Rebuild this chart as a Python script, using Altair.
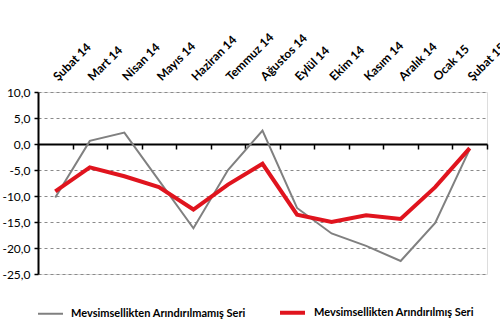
import altair as alt
import pandas as pd

months = ["Şubat 14", "Mart 14", "Nisan 14", "Mayıs 14", "Haziran 14", "Temmuz 14",
          "Ağustos 14", "Eylül 14", "Ekim 14", "Kasım 14", "Aralık 14", "Ocak 15", "Şubat 15"]
unadjusted = [-10.3, 0.6, 2.2, -7.0, -16.2, -5.0, 2.6, -12.3, -17.2, -19.6, -22.5, -15.2, -1.0]
adjusted = [-9.1, -4.5, -6.2, -8.3, -12.6, -7.8, -3.8, -13.6, -15.0, -13.7, -14.4, -8.3, -0.8]
series_names = ["Mevsimsellikten Arındırılmamış Seri", "Mevsimsellikten Arındırılmış Seri"]
series_colors = ["#808080", "#e0141e"]
series_widths = [2, 4]
y_ticks = [10, 5, 0, -5, -10, -15, -20, -25]
y_domain = [-25, 10]

df = pd.DataFrame({
    "month": months * 2,
    "value": unadjusted + adjusted,
    "series": [series_names[0]] * len(months) + [series_names[1]] * len(months),
})

FONT = "Lato"
W, H = 449, 182
zero_offset = -H * (0 - y_domain[0]) / (y_domain[1] - y_domain[0])

legend = alt.Legend(
    title=None, orient="none", legendX=-1, legendY=206, direction="horizontal",
    symbolType="stroke", symbolSize=625, labelFont=FONT, labelFontSize=11,
    labelFontWeight="bold", labelColor="black", labelOffset=7, columnPadding=26,
    labelLimit=400,
)
color = alt.Color("series:N", scale=alt.Scale(domain=series_names, range=series_colors), legend=legend)
width_enc = alt.StrokeWidth("series:N", scale=alt.Scale(domain=series_names, range=series_widths), legend=legend)

y_enc = alt.Y(
    "value:Q",
    scale=alt.Scale(domain=y_domain, nice=False, zero=False),
    axis=alt.Axis(
        title=None, values=y_ticks, grid=True, gridDash=[3, 3], gridColor="#8a8a8a", gridWidth=1,
        domainColor="black", domainWidth=2, tickColor="black", tickSize=4, tickWidth=1.5,
        labelFont=FONT, labelFontSize=12, labelColor="black", labelPadding=4,
        labelExpr="replace(replace(format(datum.value, '.1f'), '.', ','), '−', '-')",
    ),
)

x_scale = alt.Scale(type="band", paddingInner=0, paddingOuter=0)

gray = alt.Chart(df).transform_filter(alt.datum.series == series_names[0]).mark_line().encode(
    x=alt.X("month:N", sort=months, scale=x_scale, bandPosition=0.5,
            axis=alt.Axis(orient="bottom", offset=zero_offset, labels=False, title=None, grid=False,
                          domainColor="black", domainWidth=2, tickColor="black", tickSize=5,
                          tickWidth=1.5, tickBand="extent")),
    y=y_enc, color=color, strokeWidth=width_enc,
)

red = alt.Chart(df).transform_filter(alt.datum.series == series_names[1]).mark_line().encode(
    x=alt.X("month:N", sort=months, scale=x_scale, bandPosition=0.5,
            axis=alt.Axis(orient="top", labelAngle=-45, labelAlign="left", labelBaseline="alphabetic",
                          ticks=False, domain=False, title=None, labelOffset=3,
                          grid=False, labelPadding=11, labelFont=FONT, labelFontSize=12,
                          labelFontWeight="bold", labelColor="black", labelOverlap=False,
                          labelBound=False)),
    y=y_enc, color=color, strokeWidth=width_enc,
)

chart = alt.layer(gray, red).resolve_axis(x="independent").properties(
    width=W, height=H,
    autosize=alt.AutoSizeParams(type="none"),
    padding={"left": 38, "top": 92, "right": 13, "bottom": 59},
).configure_view(stroke=None).configure(background="white")

chart.save("out.html", embed_options={"renderer": "svg", "actions": False})
